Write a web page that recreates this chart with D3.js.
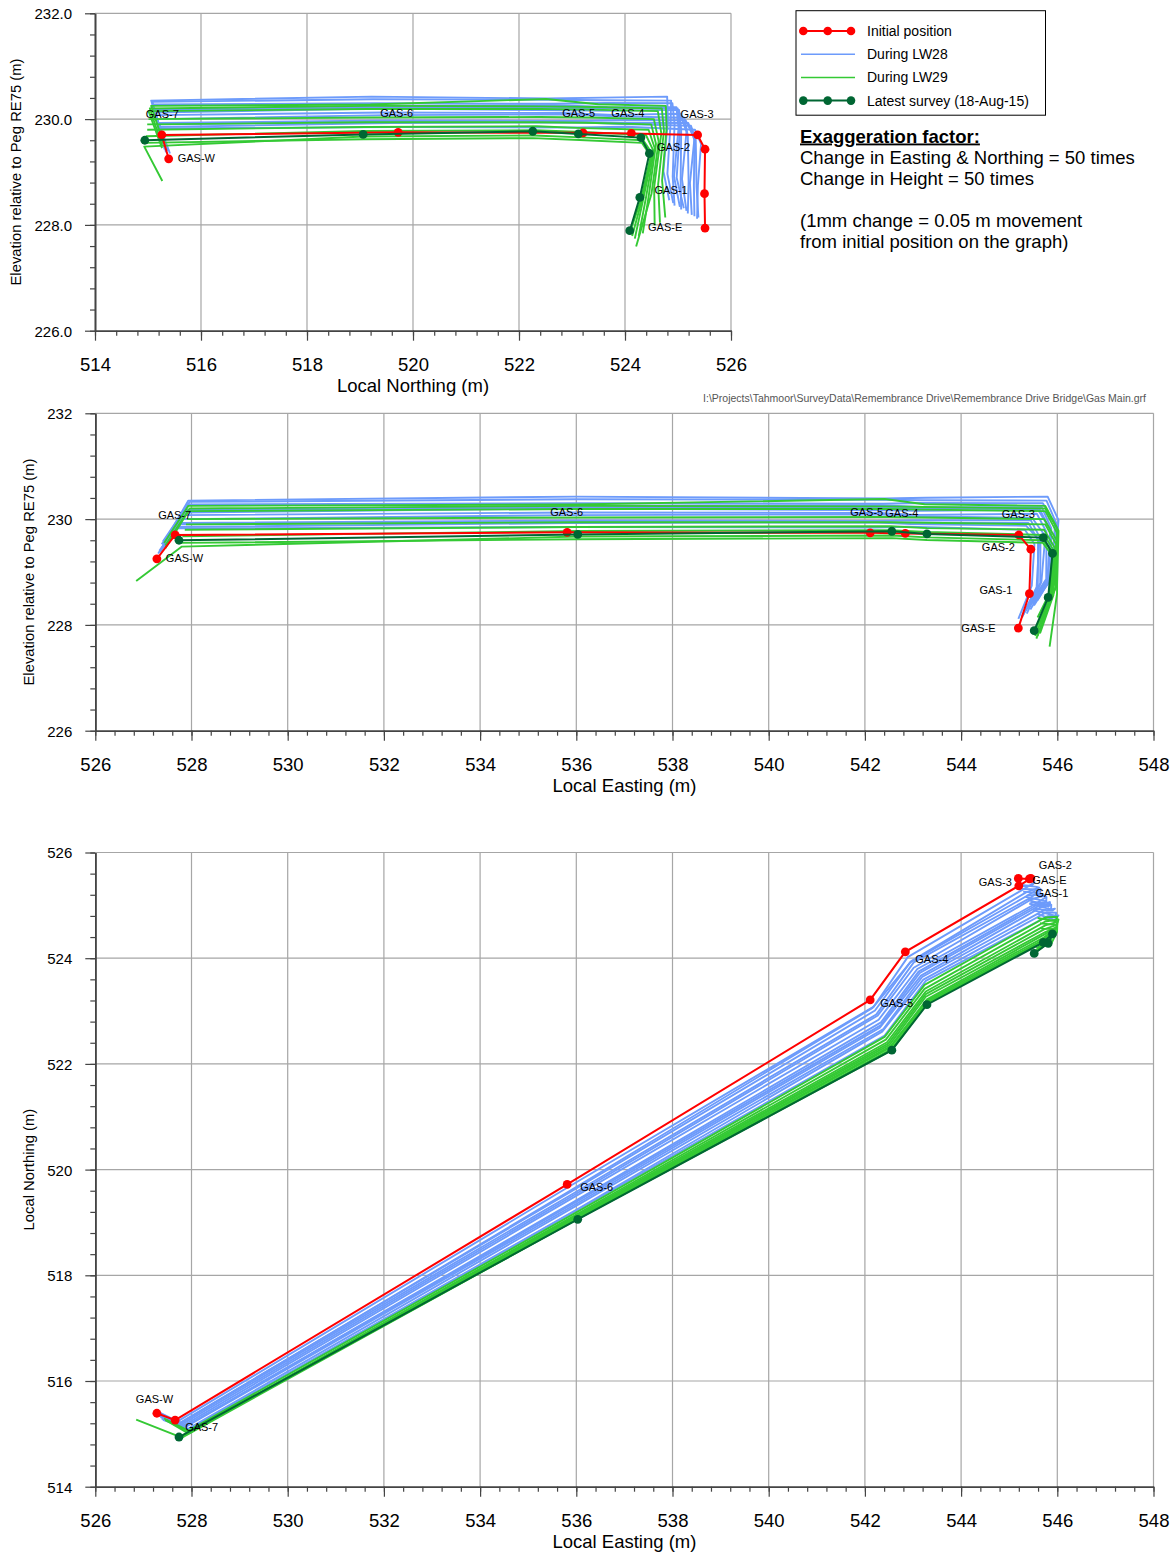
<!DOCTYPE html>
<html>
<head>
<meta charset="utf-8">
<script src="https://cdn.jsdelivr.net/npm/d3@7"></script>
<style>
  body { margin: 0; background: #fff; }
  text { font-family: "Liberation Sans", Arial, sans-serif; }
</style>
</head>
<body>
<svg id="chart" width="1176" height="1553"></svg>
<script>
// survey marks along the gas main, west to east
var points = ["GAS-W", "GAS-7", "GAS-6", "GAS-5", "GAS-4", "GAS-3", "GAS-2", "GAS-1", "GAS-E"];

// initial position (m)
var initialE = [527.28, 527.66, 535.81, 542.11, 542.84, 545.20, 545.45, 545.42, 545.19];
var initialN = [515.39, 515.26, 519.72, 523.21, 524.12, 525.37, 525.51, 525.50, 525.51];
var initialZ = [229.25, 229.70, 229.75, 229.74, 229.73, 229.70, 229.43, 228.59, 227.94];

// movement from initial position (mm), latest survey 18-Aug-15 (GAS-W not surveyed)
var latestE = [null, 1.6, 4.4, 9.0, 9.0, 10.2, 9.0, 7.8, 6.6];
var latestN = [null, -6.4, -13.2, -19.0, -20.0, -21.4, -21.0, -24.4, -28.4];
var latestZ = [null, -2.0, -0.8, 0.6, -0.2, -1.0, -1.6, -1.4, -1.0];

// movement (mm) during LW28, one row per survey
var lw28E = [
  [0.5, 1, 0.5, 1.5, 1, 2.5, 1.5, 1, 0],
  [1.5, 1.5, 1, 1, 2.5, 3, 3.5, 3, 1.5],
  [1, 2, 1, 2, 2, 4, 3, 3.5, 1.5],
  [1, 2.5, 1.5, 2.5, 3.5, 5, 4, 4.5, 2],
  [2, 2, 2, 3, 3.5, 5.5, 6, 5, 3.5],
  [1.5, 3.5, 2.5, 3.5, 5, 7.5, 6.5, 7, 3],
  [2.5, 3, 2, 4.5, 5.5, 8, 8, 7.5, 5],
  [2.5, 4, 3, 4.5, 6, 8.5, 8, 8, 4],
  [2, 4.5, 3.5, 4, 6.5, 9.5, 8.5, 9, 4.5],
  [3, 5, 3, 5.5, 7, 10, 10, 9.5, 6.5],
  [2.5, 6, 4, 5, 7.5, 11.5, 10.5, 11, 6],
  [3.5, 5.5, 3.5, 6, 8.5, 12, 11.5, 10.5, 8]
];
var lw28N = [
  [0.5, -0.5, -1, -2.5, -2, -1, -1.5, -2.5, -3],
  [0, -1.5, -2.5, -3, -3.5, -2.5, -3.5, -3, -2.5],
  [-0.5, -1, -3, -4, -4, -3.5, -4, -4, -4],
  [-1, -1, -4, -5.5, -4, -4.5, -4, -5.5, -5],
  [-0.5, -2, -4.5, -6, -6, -5, -6.5, -6, -6.5],
  [-1.5, -2, -5, -7.5, -6.5, -6.5, -7, -8.5, -7],
  [-1, -3, -7, -8.5, -7.5, -7, -9, -9, -9],
  [-1.5, -2.5, -7, -9.5, -8, -7.5, -9.5, -10.5, -8],
  [-2, -2.5, -7.5, -10.5, -9, -8, -10, -11.5, -9.5],
  [-1.5, -3.5, -8.5, -11, -9.5, -9.5, -11.5, -12, -11.5],
  [-2.5, -3.5, -9.5, -12, -10.5, -10, -13, -14, -12],
  [-2, -4, -10, -13.5, -11, -11.5, -14, -15.5, -13.5]
];
var lw28Z = [
  [2, 2.5, 2, 2, 2.5, 2, 2, 3, 3.5],
  [3, 3, 3.5, 4, 3.5, 3.5, 3.5, 2.5, 4],
  [3, 4, 4, 4, 4, 4.5, 3.5, 3, 4.5],
  [2.5, 4.5, 4.5, 4.5, 5, 5.5, 4, 4, 5],
  [4, 6, 6.5, 7, 6.5, 6.5, 5, 4.5, 5.5],
  [3.5, 7.5, 7.5, 7.5, 7, 8, 6.5, 5.5, 6.5],
  [4.5, 8.5, 9, 8.5, 8.5, 9.5, 7.5, 5, 7],
  [5, 9, 9.5, 9.5, 9.5, 10, 7.5, 6, 7.5],
  [5.5, 9.5, 10, 10.5, 10, 10.5, 8, 6.5, 8],
  [5, 11.5, 11, 11, 11.5, 12, 9.5, 6.5, 8.5],
  [6.5, 12.5, 12.5, 12.5, 12.5, 13, 10, 7.5, 9.5],
  [7, 13, 13.5, 13, 13.5, 14.5, 11, 8.5, 10.5]
];

// movement (mm) during LW29, one row per survey
var lw29E = [
  [3, 5.5, 4, 6, 8, 11, 11, 11, 8],
  [3.5, 6, 4.5, 6.5, 8, 11, 11.5, 11.5, 9],
  [3.5, 5.5, 4.5, 7, 8.5, 11, 11, 11, 9.5],
  [null, 5, 4.5, 7.5, 8.5, 10.5, 11, 11.5, 13],
  [null, 4.5, 4.5, 8, 8.5, 11, 10.5, 10, 9],
  [null, 4, 4.5, 8.5, 9, 10.5, 10, 9.5, 8],
  [null, 3, 4.5, 8.5, 9, 10.5, 9.5, 9, 7.5],
  [-8.6, 2.8, 4.5, 9, 9, 10, 9.5, 8.5, 7],
  [null, 2, 4.5, 9, 9, 10, 9, 8, 6.5]
];
var lw29N = [
  [-2, -4, -10.5, -14, -12.5, -12, -14.5, -16, -15],
  [-2.5, -4.5, -11, -15, -14, -13.5, -15.5, -17.5, -17],
  [-2.5, -5, -11.5, -16, -15, -15, -16.5, -19, -19],
  [null, -5, -12, -16.5, -16, -16.5, -17.5, -20, -26],
  [null, -5.5, -12, -17, -17, -17.5, -18.5, -21, -23.5],
  [null, -5.5, -12.5, -17.5, -18, -18.5, -19, -22, -25],
  [null, -6, -12.5, -18, -18.5, -19.5, -19.5, -23, -26.5],
  [-2.4, -6.6, -13, -18.5, -19, -20.5, -20, -23.5, -27.5],
  [null, -6.5, -13, -19, -19.5, -21, -20.5, -24, -28.5]
];
var lw29Z = [
  [6, 11, 10.5, 12.8, 11, 11, 8, 5, 4],
  [5, 10, 10, 10, 10, 10, 7, 3.5, 2],
  [4, 9, 8.8, 9, 9, 9, 6, 2.5, 1],
  [null, 6, 5.6, 6, 6, 6, 3, 0, -7],
  [null, 4, 3.8, 4, 4, 4, 2, -0.5, -2],
  [null, 2, 2, 2.5, 2, 2, 0.5, -1, -3],
  [null, -0.5, 0.5, 1, 0.5, 0, -0.5, -1.5, -4],
  [-8.4, -4.4, -1.6, -1, -1.5, -2, -1.5, -2, -3],
  [null, -3, -2.6, -2, -2.5, -3, -2.5, -2.5, -2]
];

var exaggeration = 50;

// tick labels
var northingTicks = [514, 516, 518, 520, 522, 524, 526];
var eastingTicks = [526, 528, 530, 532, 534, 536, 538, 540, 542, 544, 546, 548];
var heightTicks = [226, 228, 230, 232];

var legendLabels = ["Initial position", "During LW28", "During LW29", "Latest survey (18-Aug-15)"];
var noteLines = ["Change in Easting & Northing = 50 times", "Change in Height = 50 times", "",
  "(1mm change = 0.05 m movement", "from initial position on the graph)"];
var filePath = "I:\\Projects\\Tahmoor\\SurveyData\\Remembrance Drive\\Remembrance Drive Bridge\\Gas Main.grf";

var colors = { initial: "#ff0000", lw28: "#6d9bfb", lw29: "#34c934", latest: "#006633" };

// build plotted (exaggerated) positions for one survey
function positions(dE, dN, dZ) {
  return points.map(function(p, i) {
    if (dE[i] == null) return null;
    return {
      e: initialE[i] + exaggeration * dE[i] / 1000,
      n: initialN[i] + exaggeration * dN[i] / 1000,
      z: initialZ[i] + exaggeration * dZ[i] / 1000
    };
  });
}

var initialPos = points.map(function(p, i) { return {e: initialE[i], n: initialN[i], z: initialZ[i]}; });
var latestPos = positions(latestE, latestN, latestZ);
var lw28Pos = lw28E.map(function(r, s) { return positions(lw28E[s], lw28N[s], lw28Z[s]); });
var lw29Pos = lw29E.map(function(r, s) { return positions(lw29E[s], lw29N[s], lw29Z[s]); });

var svg = d3.select("#chart");

var charts = [
  { x0: 95, x1: 731, y0: 13.3, y1: 330.7, xKey: "n", yKey: "z",
    xDomain: [514, 526], yDomain: [226, 232], xTicks: northingTicks, yTicks: heightTicks,
    yFmt: d3.format(".1f"), xTitle: "Local Northing (m)", yTitle: "Elevation relative to Peg RE75 (m)",
    yTitleX: 21,
    labelOff: [[9, 3], [-16, -17], [-18, -15], [-21, -16], [-20, -16], [-17, -17], [-48, 1.5], [-50, 0], [-57, 3]] },
  { x0: 95.3, x1: 1153.5, y0: 413.3, y1: 730.7, xKey: "e", yKey: "z",
    xDomain: [526, 548], yDomain: [226, 232], xTicks: eastingTicks, yTicks: heightTicks,
    yFmt: d3.format("d"), xTitle: "Local Easting (m)", yTitle: "Elevation relative to Peg RE75 (m)",
    yTitleX: 34,
    labelOff: [[9, 3], [-17, -16], [-17, -16], [-20, -16.5], [-20, -16.5], [-17, -16.6], [-49, 1.7], [-50, 0], [-57, 4]] },
  { x0: 95.3, x1: 1153.5, y0: 852.5, y1: 1486.7, xKey: "e", yKey: "n",
    xDomain: [526, 548], yDomain: [514, 526], xTicks: eastingTicks, yTicks: northingTicks,
    yFmt: d3.format("d"), xTitle: "Local Easting (m)", yTitle: "Local Northing (m)",
    yTitleX: 34,
    labelOff: [[-21, -10], [10, 11], [13, 7], [10, 7], [10, 11], [-40, 0], [8, -9], [6, 18], [14, 6]] }
];

charts.forEach(function(c) {
  var x = d3.scaleLinear().domain(c.xDomain).range([c.x0, c.x1]);
  var y = d3.scaleLinear().domain(c.yDomain).range([c.y1, c.y0]);
  var g = svg.append("g");

  // grid
  g.append("g").selectAll("line.v").data(c.xTicks.slice(1)).enter().append("line")
    .attr("x1", function(d) { return x(d); }).attr("x2", function(d) { return x(d); })
    .attr("y1", c.y0).attr("y2", c.y1)
    .attr("stroke", "#a6a6a6").attr("stroke-width", 1.2);
  g.append("g").selectAll("line.h").data(c.yTicks.slice(1)).enter().append("line")
    .attr("x1", c.x0).attr("x2", c.x1)
    .attr("y1", function(d) { return y(d); }).attr("y2", function(d) { return y(d); })
    .attr("stroke", "#a6a6a6").attr("stroke-width", 1.2);

  // minor ticks
  var xMinor = d3.range(c.xDomain[0], c.xDomain[1] + 0.001, 0.4);
  var yMinor = d3.range(c.yDomain[0], c.yDomain[1] + 0.001, 0.4);
  g.append("g").attr("transform", "translate(0," + c.y1 + ")")
    .call(d3.axisBottom(x).tickValues(xMinor).tickSize(5).tickSizeOuter(0).tickFormat(""));
  g.append("g").attr("transform", "translate(" + c.x0 + ",0)")
    .call(d3.axisLeft(y).tickValues(yMinor).tickSize(5).tickSizeOuter(0).tickFormat(""));

  // major axes
  var xa = g.append("g").attr("transform", "translate(0," + c.y1 + ")")
    .call(d3.axisBottom(x).tickValues(c.xTicks).tickSize(10).tickSizeOuter(0).tickFormat(d3.format("d")));
  xa.selectAll("text").attr("y", 40).attr("dy", 0).attr("font-size", "18.5px").attr("fill", "#000")
    .style("font-family", "'Liberation Sans', Arial, sans-serif");
  var ya = g.append("g").attr("transform", "translate(" + c.x0 + ",0)")
    .call(d3.axisLeft(y).tickValues(c.yTicks).tickSize(10).tickSizeOuter(0).tickFormat(c.yFmt));
  ya.selectAll("text").attr("x", -23).attr("dy", "0.36em").attr("font-size", "15px").attr("fill", "#000")
    .style("font-family", "'Liberation Sans', Arial, sans-serif");
  g.selectAll(".domain").attr("stroke", "#444").attr("stroke-width", 1.6);
  g.selectAll(".tick line").attr("stroke", "#444").attr("stroke-width", 1.2);

  // titles
  g.append("text").attr("x", (c.x0 + c.x1) / 2).attr("y", c.y1 + 61)
    .attr("text-anchor", "middle").attr("font-size", "18.5px").text(c.xTitle);
  g.append("text").attr("transform", "translate(" + c.yTitleX + "," + ((c.y0 + c.y1) / 2) + ") rotate(-90)")
    .attr("text-anchor", "middle").attr("font-size", "14.8px").text(c.yTitle);

  var line = d3.line()
    .defined(function(d) { return d != null; })
    .x(function(d) { return x(d[c.xKey]); })
    .y(function(d) { return y(d[c.yKey]); });

  g.append("g").selectAll("path").data(lw28Pos).enter().append("path")
    .attr("d", line).attr("fill", "none").attr("stroke", colors.lw28).attr("stroke-width", 1.9)
    .attr("stroke-linejoin", "round");
  g.append("g").selectAll("path").data(lw29Pos).enter().append("path")
    .attr("d", line).attr("fill", "none").attr("stroke", colors.lw29).attr("stroke-width", 1.9)
    .attr("stroke-linejoin", "round");

  g.append("path").datum(initialPos).attr("d", line).attr("fill", "none")
    .attr("stroke", colors.initial).attr("stroke-width", 2);
  g.append("g").selectAll("circle").data(initialPos).enter().append("circle")
    .attr("cx", function(d) { return x(d[c.xKey]); }).attr("cy", function(d) { return y(d[c.yKey]); })
    .attr("r", 4.4).attr("fill", colors.initial);

  g.append("path").datum(latestPos).attr("d", line).attr("fill", "none")
    .attr("stroke", colors.latest).attr("stroke-width", 2);
  g.append("g").selectAll("circle").data(latestPos.filter(function(d) { return d != null; })).enter().append("circle")
    .attr("cx", function(d) { return x(d[c.xKey]); }).attr("cy", function(d) { return y(d[c.yKey]); })
    .attr("r", 4.4).attr("fill", colors.latest);

  // point labels
  g.append("g").selectAll("text").data(initialPos).enter().append("text")
    .attr("x", function(d, i) { return x(d[c.xKey]) + c.labelOff[i][0]; })
    .attr("y", function(d, i) { return y(d[c.yKey]) + c.labelOff[i][1]; })
    .attr("font-size", "11px").attr("fill", "#000")
    .text(function(d, i) { return points[i]; });
});

// legend
var lg = svg.append("g");
lg.append("rect").attr("x", 796).attr("y", 10.7).attr("width", 249.5).attr("height", 104.5)
  .attr("fill", "#fff").attr("stroke", "#000").attr("stroke-width", 1);
var legendColors = [colors.initial, colors.lw28, colors.lw29, colors.latest];
var legendDots = [true, false, false, true];
legendLabels.forEach(function(lab, i) {
  var yy = 31 + i * 23.2;
  lg.append("line").attr("x1", 801).attr("x2", 855).attr("y1", yy).attr("y2", yy)
    .attr("stroke", legendColors[i]).attr("stroke-width", legendDots[i] ? 2 : 1.5);
  if (legendDots[i]) {
    [803.3, 827.7, 851].forEach(function(cx) {
      lg.append("circle").attr("cx", cx).attr("cy", yy).attr("r", 4.3).attr("fill", legendColors[i]);
    });
  }
  lg.append("text").attr("x", 867).attr("y", yy + 5).attr("font-size", "14px").text(lab);
});

// exaggeration note
svg.append("text").attr("x", 800).attr("y", 142.5).attr("font-size", "18.5px")
  .attr("font-weight", "bold").attr("text-decoration", "underline").text("Exaggeration factor:");
noteLines.forEach(function(t, i) {
  svg.append("text").attr("x", 800).attr("y", 163.5 + i * 21).attr("font-size", "18.5px").text(t);
});

// file path
svg.append("text").attr("x", 1146).attr("y", 402).attr("text-anchor", "end")
  .attr("font-size", "10.5px").attr("fill", "#555").text(filePath);
</script>
</body>
</html>
